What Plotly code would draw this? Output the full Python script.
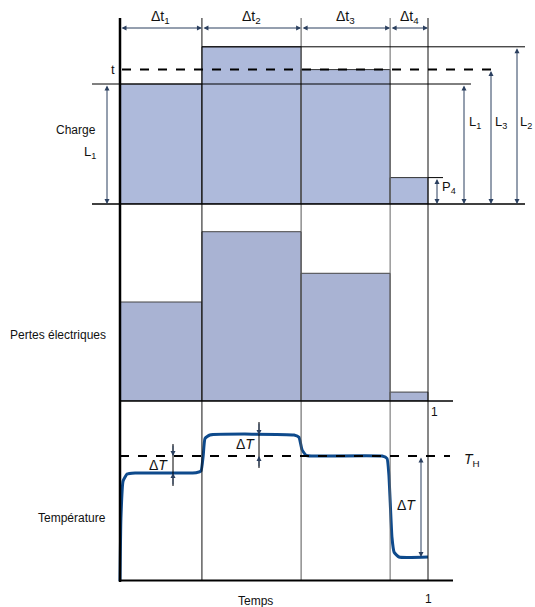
import numpy as np
import plotly.graph_objects as go

# intervalles de temps (temps relatif, total = 1)
durees = [0.266, 0.322, 0.289, 0.123]
noms_dt = ["Δt<sub>1</sub>", "Δt<sub>2</sub>", "Δt<sub>3</sub>", "Δt<sub>4</sub>"]
# charge par intervalle (L1 = 1)
charge = [1.0, 1.31, 1.12, 0.22]
# pertes électriques par intervalle
pertes = [1.0, 1.71, 1.29, 0.09]
# courbe de température (T_H = 1)
temps_T = [0.0, 0.003, 0.01, 0.023, 0.049, 0.247, 0.263, 0.27, 0.276, 0.292,
           0.565, 0.581, 0.591, 0.604, 0.623, 0.851, 0.867, 0.873, 0.883, 0.89, 0.906, 1.0]
temp_T = [0.0, 0.5, 0.80, 0.855, 0.864, 0.866, 0.88, 1.0, 1.14, 1.168,
          1.168, 1.15, 1.05, 1.005, 1.0, 1.0, 0.98, 0.85, 0.35, 0.23, 0.192, 0.192]
T_H = 1.0

W, H = 535, 607
FONT = "Liberation Sans, Arial, sans-serif"
BLEU = "#aebadb"
BLEU2 = "#a9b3d3"

# pixel -> coordonnées
def X(px):
    return (px - 120) / 308

def PX(px):
    return px / W

def PY(px):
    return 1 - px / H

bornes = list(np.cumsum(durees))
debuts = [0] + bornes[:-1]
centres = [d + w / 2 for d, w in zip(debuts, durees)]

fig = go.Figure()
fig.add_trace(go.Bar(x=centres, y=charge, width=durees, yaxis="y",
                     marker=dict(color=BLEU, line=dict(color="#333", width=1))))
fig.add_trace(go.Bar(x=centres, y=pertes, width=durees, yaxis="y2",
                     marker=dict(color=BLEU2, line=dict(color="#444", width=1))))
fig.add_trace(go.Scatter(x=temps_T, y=temp_T, yaxis="y3", mode="lines",
                         line=dict(color="#0e4a8c", width=3, shape="spline", smoothing=0.4)))

shapes = []
def ligne(x0, y0, x1, y1, xref="x", yref="y", color="black", width=1, dash=None):
    shapes.append(dict(type="line", x0=x0, y0=y0, x1=x1, y1=y1, xref=xref, yref=yref,
                       line=dict(color=color, width=width, dash=dash)))

# axe gauche et séparateurs
ligne(0, PY(582), 0, PY(18), yref="paper", width=2.5)
for b, c in zip(bornes, ["#111", "#555", "#666", "#111"]):
    ligne(b, PY(581), b, PY(18), yref="paper", color=c)
# lignes de base
ligne(PX(92), PY(204), PX(525), PY(204), xref="paper", yref="paper", width=1.5)
ligne(PX(120), PY(401), PX(453), PY(401), xref="paper", yref="paper", width=1.5)
ligne(PX(120), PY(580.5), PX(453), PY(580.5), xref="paper", yref="paper", width=2)
# niveaux de charge
ligne(X(92), charge[0], X(471), charge[0])
ligne(bornes[0], charge[1], X(525), charge[1])
ligne(X(122), charge[2], X(497), charge[2], width=2, dash="dash")
ligne(bornes[3], charge[3], X(443), charge[3])
# T_H
ligne(0, T_H, X(450), T_H, yref="y3", width=2, dash="dash")
# lignes des cotes ΔT
ligne(X(173), (581 - 444) / 125, X(173), (581 - 486) / 125, yref="y3")
ligne(X(259), (581 - 422) / 125, X(259), (581 - 468) / 125, yref="y3")

ann = []
def fleche(x, y, ax, ay, yref="y", both=True):
    ann.append(dict(x=x, y=y, ax=ax, ay=ay, xref="x", yref=yref, axref="x", ayref=yref,
                    text="", showarrow=True, arrowhead=2, arrowsize=1, arrowwidth=1,
                    arrowside="end+start" if both else "end", standoff=0, startstandoff=0))

def texte(x, y, t, yref="y", xanchor="center", size=12, yanchor="middle"):
    ann.append(dict(x=x, y=y, xref="x", yref=yref, text=t, showarrow=False,
                    xanchor=xanchor, yanchor=yanchor, font=dict(size=size, color="#111", family=FONT)))

yc_fl = (204 - 28) / 120
for d, b, c, n in zip(debuts, bornes, centres, noms_dt):
    fleche(b, yc_fl, d, yc_fl)
    texte(c, (204 - 17) / 120, n, size=14)

fleche(X(107), 0, X(107), charge[0])
fleche(X(464), 0, X(464), charge[0])
fleche(X(491), 0, X(491), charge[2])
fleche(X(517), 0, X(517), charge[1])
fleche(X(437), 0, X(437), charge[3])
texte(X(475), (204 - 122) / 120, "L<sub>1</sub>", size=13)
texte(X(501), (204 - 122) / 120, "L<sub>3</sub>", size=13)
texte(X(526), (204 - 122) / 120, "L<sub>2</sub>", size=13)
texte(X(449), (204 - 187) / 120, "P<sub>4</sub>", size=13)
texte(X(113), charge[2], "t", size=13)
texte(X(98), (204 - 130) / 120, "Charge", xanchor="right")
texte(X(98), (204 - 152) / 120, "L<sub>1</sub>", xanchor="right", size=13)
texte(X(108), (401 - 335) / 99, "Pertes électriques", yref="y2", xanchor="right")
texte(X(108), (581 - 518) / 125, "Température", yref="y3", xanchor="right")

# ΔT
fleche(X(173), T_H, X(173), (581 - 444) / 125, yref="y3", both=False)
fleche(X(173), temp_T[4], X(173), (581 - 486) / 125, yref="y3", both=False)
fleche(X(259), temp_T[9], X(259), (581 - 422) / 125, yref="y3", both=False)
fleche(X(259), T_H, X(259), (581 - 468) / 125, yref="y3", both=False)
fleche(X(421), temp_T[-1], X(421), T_H, yref="y3")
texte(X(158), (581 - 465) / 125, "Δ<i>T</i>", yref="y3", size=14)
texte(X(245), (581 - 444) / 125, "Δ<i>T</i>", yref="y3", size=14)
texte(X(406), (581 - 505) / 125, "Δ<i>T</i>", yref="y3", size=14)
texte(X(472), (581 - 460) / 125, "<i>T</i><sub>H</sub>", yref="y3", size=14)
texte(X(434), (581 - 412) / 125, "1", yref="y3")
texte(1.0, PY(590), "1", yref="paper", yanchor="top")
texte(X(255), PY(592), "Temps", yref="paper", yanchor="top")

axe = dict(visible=False, fixedrange=True)
fig.update_layout(
    width=W, height=H, margin=dict(l=0, r=0, t=0, b=0, autoexpand=False),
    paper_bgcolor="white", plot_bgcolor="white", showlegend=False,
    font=dict(family=FONT),
    xaxis=dict(axe, domain=[0, 1], range=[X(0), X(W)]),
    yaxis=dict(axe, domain=[PY(204), 1], range=[0, 204 / 120], anchor="x"),
    yaxis2=dict(axe, domain=[PY(401), PY(204)], range=[0, 197 / 99], anchor="x"),
    yaxis3=dict(axe, domain=[PY(581), PY(401)], range=[0, 180 / 125], anchor="x"),
    shapes=shapes, annotations=ann,
)

# pas de marge autour de la figure dans la page
fig.write_html("out.html", config={"displayModeBar": False},
               post_script="document.body.style.margin='0';")
